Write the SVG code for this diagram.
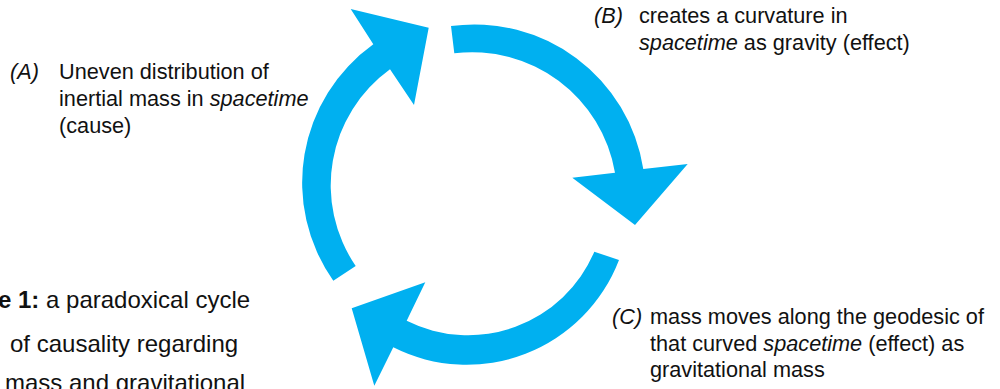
<svg xmlns="http://www.w3.org/2000/svg" width="1000" height="389" viewBox="0 0 1000 389">
<style>
.arrow{fill:#00B0F0;stroke:none}
.t{font-family:"Liberation Sans",Arial,sans-serif;font-size:21.7px;fill:#111}
.cap{font-family:"Liberation Sans",Arial,sans-serif;font-size:24px;fill:#111}
.i{font-style:italic}
.b{font-weight:bold}
</style>
<rect width="1000" height="389" fill="#fff"/>
<g id="connectors">
<path id="arrow-AB" class="arrow" d="M451,26 A171,171 0 0 1 643.3,169 L687.7,164 L635,225 L572.3,177.7 L615,172.7 A145,145 0 0 0 454.3,53.3 Z"/>
<path id="arrow-BC" class="arrow" d="M619,260 A163,163 0 0 1 393.3,347.3 L374.3,385.7 L351.7,308.3 L425.3,282.3 L406.7,320.7 A137,137 0 0 0 594.3,251.7 Z"/>
<path id="arrow-CA" class="arrow" d="M333.3,280.7 A170,170 0 0 1 373.3,44.3 L350.7,9 L428.7,27.7 L414,105 L390,69.3 A143,143 0 0 0 355.7,266 Z"/>
</g>
<g id="node-A">
<text class="t i" x="10" y="79">(A)</text>
<text class="t" x="59" y="79">Uneven distribution of</text>
<text class="t" x="59" y="106">inertial mass in <tspan class="i">spacetime</tspan></text>
<text class="t" x="59" y="132.5">(cause)</text>
</g>
<g id="node-B">
<text class="t i" x="594" y="23">(B)</text>
<text class="t" x="639" y="23">creates a curvature in</text>
<text class="t" x="639" y="49.5"><tspan class="i">spacetime</tspan> as gravity (effect)</text>
</g>
<g id="node-C">
<text class="t i" x="612" y="324">(C)</text>
<text class="t" x="650" y="324">mass moves along the geodesic of</text>
<text class="t" x="650" y="350.5">that curved <tspan class="i">spacetime</tspan> (effect) as</text>
<text class="t" x="650" y="377">gravitational mass</text>
</g>
<g id="caption">
<text class="cap" x="-62" y="308"><tspan class="b">Figure 1:</tspan> a paradoxical cycle</text>
<text class="cap" x="10" y="351.5">of causality regarding</text>
<text class="cap" x="5" y="391">mass and gravitational</text>
</g>
</svg>
